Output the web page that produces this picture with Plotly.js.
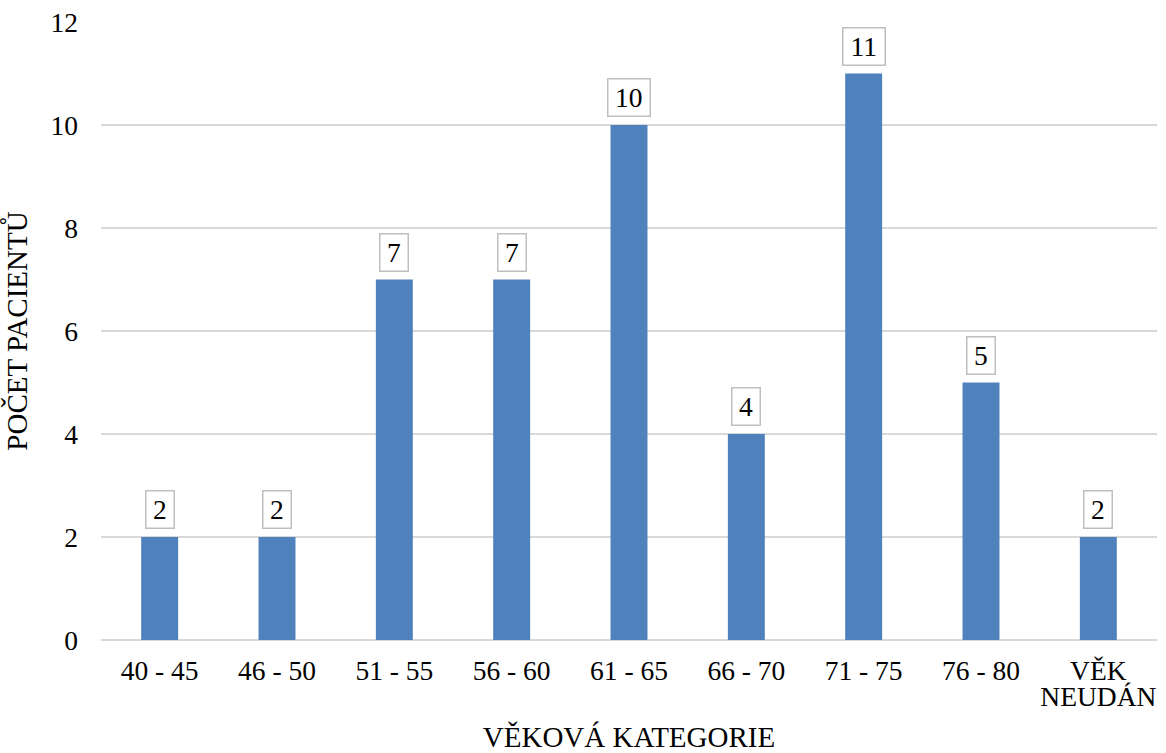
<!DOCTYPE html>
<html>
<head>
<meta charset="utf-8">
<script src="https://cdn.plot.ly/plotly-3.0.1.min.js"></script>
<style>
  html, body { margin: 0; padding: 0; background: #fff; }
  #chart { width: 1166px; height: 753px; }
</style>
</head>
<body>
<div id="chart"></div>
<script>
// Počet pacientů podle věkové kategorie
const categories = ['40 - 45', '46 - 50', '51 - 55', '56 - 60', '61 - 65', '66 - 70', '71 - 75', '76 - 80', 'VĚK<br>NEUDÁN'];
const patients = [2, 2, 7, 7, 10, 4, 11, 5, 2];
const yTicks = [0, 2, 4, 6, 8, 10, 12];

const FONT = 'Liberation Serif';
const TICK_SIZE = 27.5;
const TITLE_SIZE = 29;
const BAR_COLOR = '#4f81bd';
const GRID_COLOR = '#d9d9d9';

const trace = {
  type: 'bar',
  x: categories,
  y: patients,
  marker: { color: BAR_COLOR, line: { width: 0 } },
  hoverinfo: 'skip'
};

// value labels in framed boxes above each bar; box width follows the digit count
const labels = categories.map((c, i) => {
  const txt = String(patients[i]);
  return {
    x: c,
    y: patients[i],
    xref: 'x',
    yref: 'y',
    text: txt,
    showarrow: false,
    yanchor: 'bottom',
    yshift: 8,
    width: txt.length * TICK_SIZE * 0.5 + 13,
    height: 35.5,
    font: { family: FONT, size: TICK_SIZE, color: '#000' },
    bgcolor: '#ffffff',
    bordercolor: '#bfbfbf',
    borderwidth: 1.5,
    borderpad: 0
  };
});

const layout = {
  width: 1166,
  height: 753,
  margin: { l: 101, r: 9, t: 21.5, b: 112.5 },
  paper_bgcolor: '#ffffff',
  plot_bgcolor: '#ffffff',
  showlegend: false,
  bargap: 0.685,
  font: { family: FONT, size: TICK_SIZE, color: '#000' },
  xaxis: {
    type: 'category',
    showgrid: false,
    showline: false,
    zeroline: false,
    ticks: '',
    ticklabelstandoff: 11,
    tickfont: { family: FONT, size: TICK_SIZE, color: '#000' },
    title: { text: 'VĚKOVÁ KATEGORIE', font: { family: FONT, size: TITLE_SIZE, color: '#000' }, standoff: 9 }
  },
  yaxis: {
    range: [0, 12],
    tickvals: yTicks,
    ticktext: yTicks.map(String),
    showgrid: true,
    gridcolor: GRID_COLOR,
    gridwidth: 2,
    zeroline: true,
    zerolinecolor: GRID_COLOR,
    zerolinewidth: 2,
    showline: false,
    ticks: '',
    ticklabelstandoff: 22,
    tickfont: { family: FONT, size: TICK_SIZE, color: '#000' },
    title: { text: 'POČET PACIENTŮ', font: { family: FONT, size: TITLE_SIZE, color: '#000' }, standoff: 14 }
  },
  annotations: labels
};

Plotly.newPlot('chart', [trace], layout, { displayModeBar: false, staticPlot: true }).then(gd => {
  // tighter line spacing for two-line category labels
  gd.querySelectorAll('.xtick text tspan.line').forEach((t, k) => {
    if (t.getAttribute('dy') && t.getAttribute('dy') !== '0em') t.setAttribute('dy', '0.97em');
  });
});
</script>
</body>
</html>
